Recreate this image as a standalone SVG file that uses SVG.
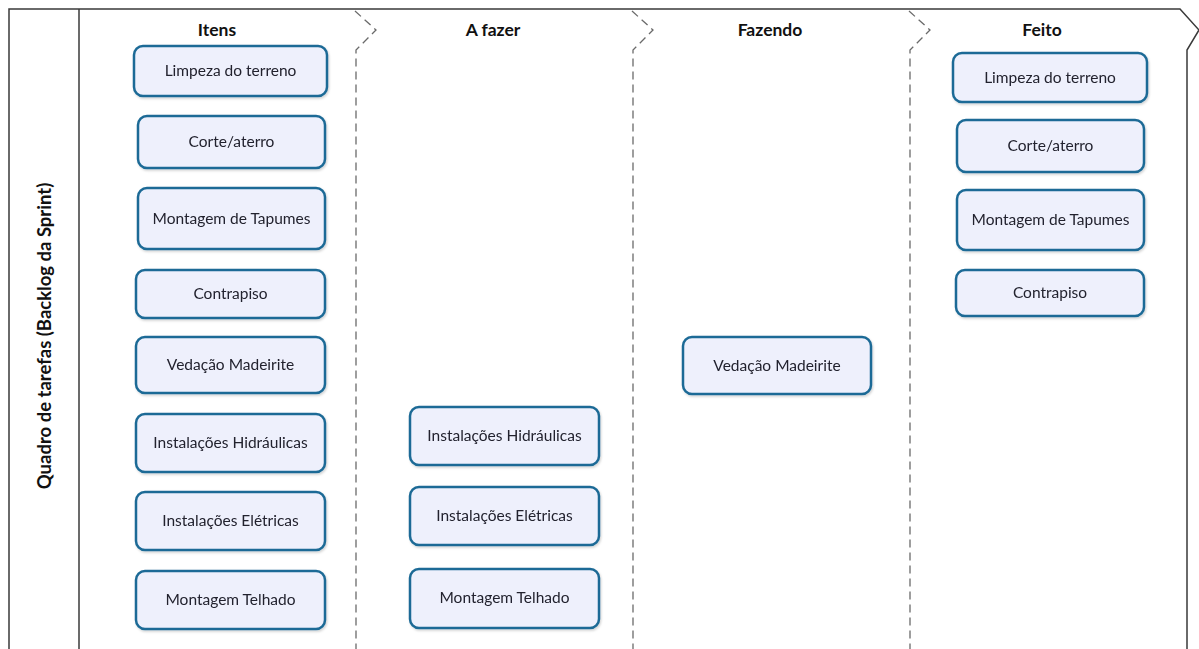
<svg xmlns="http://www.w3.org/2000/svg" width="1199" height="649" viewBox="0 0 1199 649">
  <style>
    .frame { fill: none; stroke: #3a3a3a; stroke-width: 1.5; }
    .divider { fill: none; stroke: #6a6a6a; stroke-width: 1.3; stroke-dasharray: 8 5; }
    .card { fill: #eef0fc; stroke: #1d6a96; stroke-width: 2.5; }
    .card-text { font-family: Lato, "Open Sans", sans-serif; font-size: 15.5px; fill: #22222e; text-anchor: middle; dominant-baseline: central; }
    .lane-title { font-family: Lato, "Open Sans", sans-serif; font-size: 17.5px; font-weight: bold; fill: #111; text-anchor: middle; dominant-baseline: central; }
    .board-title { font-family: Lato, "Open Sans", sans-serif; font-size: 18.5px; font-weight: bold; fill: #111; text-anchor: middle; dominant-baseline: central; }
  </style>
  <defs>
    <filter id="soft" x="-10%" y="-10%" width="120%" height="130%">
      <feDropShadow dx="1" dy="1.5" stdDeviation="1.2" flood-color="#000" flood-opacity="0.18"/>
    </filter>
  </defs>

  <rect width="1199" height="649" fill="#ffffff"/>

  <!-- board frame -->
  <g id="board">
    <path class="frame" d="M9,649 V9 H1180 L1199,30 L1187,50 V649"/>
    <line class="frame" x1="79" y1="9" x2="79" y2="649"/>
    <text class="board-title" transform="translate(44,336) rotate(-90)">Quadro de tarefas (Backlog da Sprint)</text>
  </g>

  <!-- lane separators -->
  <g id="connectors">
    <path class="divider" d="M355,11 L376,30 L356,50 V649"/>
    <path class="divider" d="M632,11 L653,30 L633,50 V649"/>
    <path class="divider" d="M909,11 L930,30 L910,50 V649"/>
  </g>

  <!-- lane titles -->
  <g id="titles">
    <text class="lane-title" x="217" y="29">Itens</text>
    <text class="lane-title" x="493" y="29">A fazer</text>
    <text class="lane-title" x="770" y="29">Fazendo</text>
    <text class="lane-title" x="1042" y="29">Feito</text>
  </g>

  <!-- Itens -->
  <g id="itens-limpeza" filter="url(#soft)"><rect class="card" x="134" y="46" width="193" height="50" rx="9"/><text class="card-text" x="230.5" y="70">Limpeza do terreno</text></g>
  <g id="itens-corte" filter="url(#soft)"><rect class="card" x="138" y="116" width="187" height="52" rx="9"/><text class="card-text" x="231.5" y="141">Corte/aterro</text></g>
  <g id="itens-tapumes" filter="url(#soft)"><rect class="card" x="138" y="188" width="187" height="61" rx="9"/><text class="card-text" x="231.5" y="217.5">Montagem de Tapumes</text></g>
  <g id="itens-contrapiso" filter="url(#soft)"><rect class="card" x="136" y="270" width="189" height="48" rx="9"/><text class="card-text" x="230.5" y="293">Contrapiso</text></g>
  <g id="itens-vedacao" filter="url(#soft)"><rect class="card" x="136" y="337" width="189" height="56" rx="9"/><text class="card-text" x="230.5" y="364">Vedação Madeirite</text></g>
  <g id="itens-hidraulicas" filter="url(#soft)"><rect class="card" x="136" y="414" width="189" height="58" rx="9"/><text class="card-text" x="230.5" y="442">Instalações Hidráulicas</text></g>
  <g id="itens-eletricas" filter="url(#soft)"><rect class="card" x="136" y="492" width="189" height="58" rx="9"/><text class="card-text" x="230.5" y="520">Instalações Elétricas</text></g>
  <g id="itens-telhado" filter="url(#soft)"><rect class="card" x="136" y="571" width="189" height="58" rx="9"/><text class="card-text" x="230.5" y="599">Montagem Telhado</text></g>

  <!-- A fazer -->
  <g id="afazer-hidraulicas" filter="url(#soft)"><rect class="card" x="410" y="407" width="189" height="58" rx="9"/><text class="card-text" x="504.5" y="435">Instalações Hidráulicas</text></g>
  <g id="afazer-eletricas" filter="url(#soft)"><rect class="card" x="410" y="487" width="189" height="58" rx="9"/><text class="card-text" x="504.5" y="515">Instalações Elétricas</text></g>
  <g id="afazer-telhado" filter="url(#soft)"><rect class="card" x="410" y="569" width="189" height="59" rx="9"/><text class="card-text" x="504.5" y="597">Montagem Telhado</text></g>

  <!-- Fazendo -->
  <g id="fazendo-vedacao" filter="url(#soft)"><rect class="card" x="683" y="337" width="188" height="57" rx="9"/><text class="card-text" x="777" y="364.5">Vedação Madeirite</text></g>

  <!-- Feito -->
  <g id="feito-limpeza" filter="url(#soft)"><rect class="card" x="953" y="53" width="194" height="49" rx="9"/><text class="card-text" x="1050" y="76.5">Limpeza do terreno</text></g>
  <g id="feito-corte" filter="url(#soft)"><rect class="card" x="957" y="120" width="187" height="52" rx="9"/><text class="card-text" x="1050.5" y="145">Corte/aterro</text></g>
  <g id="feito-tapumes" filter="url(#soft)"><rect class="card" x="957" y="190" width="187" height="60" rx="9"/><text class="card-text" x="1050.5" y="219">Montagem de Tapumes</text></g>
  <g id="feito-contrapiso" filter="url(#soft)"><rect class="card" x="956" y="270" width="188" height="46" rx="9"/><text class="card-text" x="1050" y="292">Contrapiso</text></g>
</svg>
